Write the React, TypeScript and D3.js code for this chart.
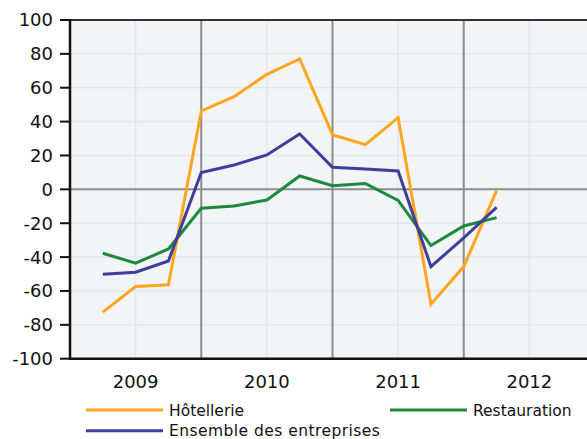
import React from "react";
import * as d3 from "d3";

const quarters = ["2009T1","2009T2","2009T3","2009T4","2010T1","2010T2","2010T3","2010T4","2011T1","2011T2","2011T3","2011T4","2012T1"];
const hotellerie = [-72.5, -57.4, -56.4, 46.3, 54.7, 67.9, 77, 32.3, 26.4, 42.3, -67.8, -45.6, -0.8];
const restauration = [-37.7, -43.6, -35.2, -11.2, -9.8, -6.3, 7.9, 2.2, 3.5, -6.5, -33.2, -21.6, -16.7];
const ensemble = [-50.1, -48.9, -42.3, 9.9, 14.4, 20.3, 32.7, 13, 12, 10.9, -45.6, -28.7, -10.6];
const years = ["2009", "2010", "2011", "2012"];
const yTicks = [100, 80, 60, 40, 20, 0, -20, -40, -60, -80, -100];

const W = 587, H = 439;
const left = 70, top = 20, bottom = 358.7, right = 595;

export default function App() {
  const x = d3.scaleLinear().domain([-1, 15]).range([left, right]);
  const y = d3.scaleLinear().domain([-100, 100]).range([bottom, top]);
  const line = d3.line<number>().x((_, i) => x(i)).y((d) => y(d));
  const series = [
    { name: "Hôtellerie", values: hotellerie, color: "#fca61e" },
    { name: "Restauration", values: restauration, color: "#1b8a3d" },
    { name: "Ensemble des entreprises", values: ensemble, color: "#3e3e9c" },
  ];
  const font = "'DejaVu Sans', Verdana, sans-serif";
  return (
    <div style={{ position: "fixed", left: 0, top: 0 }}>
      <svg width={W} height={H} style={{ display: "block", fontFamily: font }}>
        <rect x={0} y={0} width={W} height={H} fill="#fff" />
        <rect x={left} y={top} width={right - left} height={bottom - top} fill="#f3f4f6" />
        {yTicks.filter((t) => t !== 0 && t !== 100 && t !== -100).map((t) => (
          <line key={"hg" + t} x1={left} x2={right} y1={y(t)} y2={y(t)} stroke="#e6e7ea" strokeWidth={1.5} />
        ))}
        {years.map((yr, k) => (
          <line key={"vg" + yr} x1={x(1 + 4 * k)} x2={x(1 + 4 * k)} y1={top} y2={bottom} stroke="#e6e7ea" strokeWidth={1.5} />
        ))}
        {years.map((yr, k) => (
          <line key={"vd" + yr} x1={x(3 + 4 * k)} x2={x(3 + 4 * k)} y1={top} y2={bottom} stroke="#8c8c8c" strokeWidth={2} />
        ))}
        <line x1={left} x2={right} y1={y(0)} y2={y(0)} stroke="#8c8c8c" strokeWidth={2} />
        {series.map((s) => (
          <path key={s.name} d={line(s.values) || ""} fill="none" stroke={s.color} strokeWidth={3} strokeLinejoin="miter" />
        ))}
        <line x1={left} x2={right} y1={top} y2={top} stroke="#333" strokeWidth={2} />
        <line x1={left} x2={right} y1={bottom} y2={bottom} stroke="#111" strokeWidth={2.5} />
        <line x1={left} x2={left} y1={top - 1} y2={bottom + 1} stroke="#111" strokeWidth={2.5} />
        {yTicks.map((t) => (
          <g key={"yt" + t}>
            <line x1={60} x2={left} y1={y(t)} y2={y(t)} stroke="#111" strokeWidth={2} />
            <text x={53} y={y(t)} dy="0.36em" textAnchor="end" fontSize={18} fill="#111">{t}</text>
          </g>
        ))}
        {years.map((yr, k) => (
          <text key={"xl" + yr} x={x(1 + 4 * k)} y={388} textAnchor="middle" fontSize={18} fill="#111">{yr}</text>
        ))}
        <line x1={86} x2={163} y1={410} y2={410} stroke={series[0].color} strokeWidth={3} />
        <text x={169} y={415.5} fontSize={15.5} fill="#111">{series[0].name}</text>
        <line x1={390} x2={467} y1={410} y2={410} stroke={series[1].color} strokeWidth={3} />
        <text x={473} y={415.5} fontSize={15.5} fill="#111">{series[1].name}</text>
        <line x1={86} x2={163} y1={430.7} y2={430.7} stroke={series[2].color} strokeWidth={3} />
        <text x={169} y={436.2} fontSize={15.5} letterSpacing={0.45} fill="#111">{series[2].name}</text>
      </svg>
    </div>
  );
}
